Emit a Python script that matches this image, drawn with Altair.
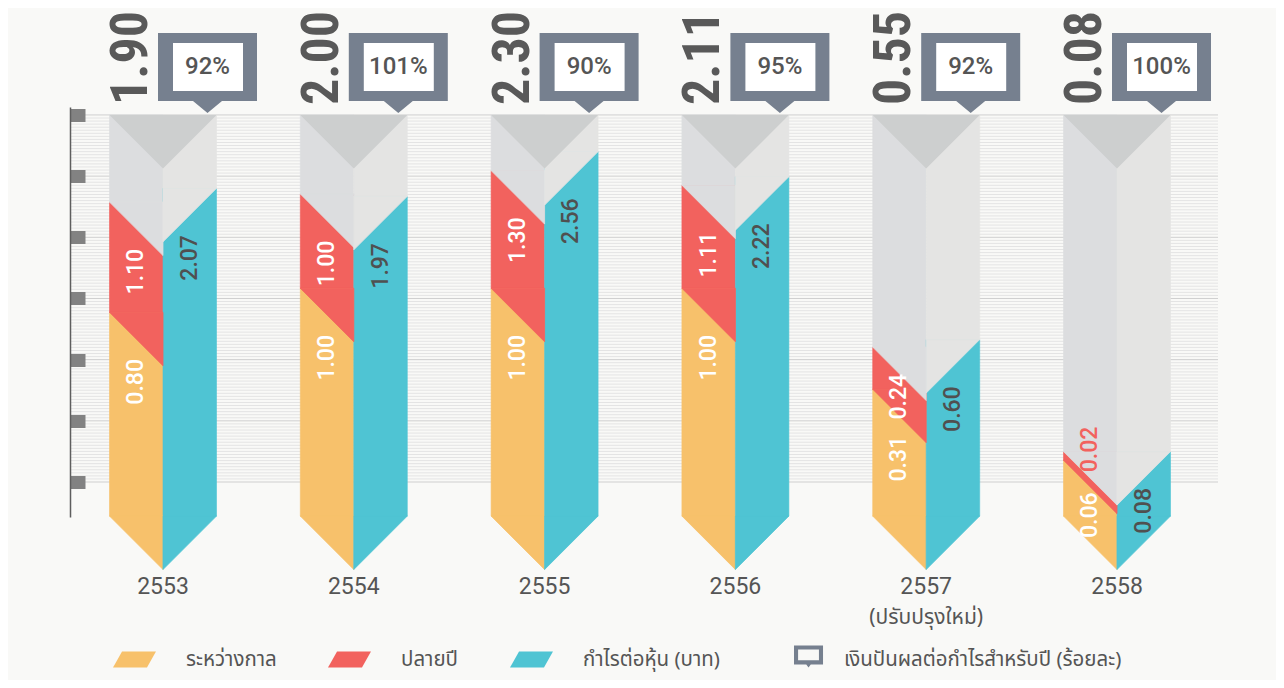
import math
import altair as alt
import pandas as pd

# ---------------- data ----------------
years = ["2553", "2554", "2555", "2556", "2557", "2558"]
year_notes = ["", "", "", "", "(ปรับปรุงใหม่)", ""]
interim = [0.80, 1.00, 1.00, 1.00, 0.31, 0.06]      # ระหว่างกาล
final = [1.10, 1.00, 1.30, 1.11, 0.24, 0.02]        # ปลายปี
total = [1.90, 2.00, 2.30, 2.11, 0.55, 0.08]        # total dividend
eps = [2.07, 1.97, 2.56, 2.22, 0.60, 0.08]          # กำไรต่อหุ้น (บาท)
payout = [92, 101, 90, 95, 92, 100]                 # ร้อยละ
legend_labels = ["ระหว่างกาล", "ปลายปี", "กำไรต่อหุ้น (บาท)",
                 "เงินปันผลต่อกำไรสำหรับปี (ร้อยละ)"]
ruler_ticks = [0, 1, 2, 3, 4, 5, 6]
ruler_minor = [j / 20 for j in range(1, 120) if j % 20]

# ---------------- layout / style ----------------
YEL, RED, TEAL = "#f7c16b", "#f2625e", "#4fc4d3"
GREY_L, GREY_R, CAP = "#dcdddf", "#e4e4e3", "#cdcfcf"
SLATE, BG, TXT = "#76808f", "#f9f9f7", "#555555"
BIG_FONT = "Roboto Condensed, Liberation Sans Narrow, DejaVu Sans Condensed, Roboto, sans-serif"
NUM_FONT = "Roboto, Noto Sans, sans-serif"
THAI_FONT = "Noto Sans Thai, Noto Sans Thai UI, Sarabun, Kanit, Prompt, Loma, Garuda, Noto Sans, sans-serif"

PLOT_W, PLOT_H = 1148, 672
GROUP_PX = 190.8
X_RANGE = [93, 93 + 5 * GROUP_PX]
M = 3.1
Y_RANGE = [508, 107]
K = (Y_RANGE[0] - Y_RANGE[1]) / math.sqrt(M)   # px per sqrt-unit
SLANT = 53.5                                     # column width in px (45 deg cut)
W = SLANT / GROUP_PX
TRI_SIZE = SLANT ** 2                            # symbol unit = SLANT/2 px


def shift(v, px):
    """value whose sqrt-scale position lies px pixels below v (negative = above)"""
    t = math.sqrt(max(v, 0.0)) - px / K
    return math.copysign(t * t, t)


xs = alt.Scale(domain=[0, 5], range=X_RANGE, nice=False, zero=False)
ys = alt.Scale(type="sqrt", domain=[0, M], range=Y_RANGE, nice=False)
rs = alt.Scale(domain=[-0.572, 6.13], range=[509, 99], nice=False, zero=False)

kinds = ["interim", "final", "eps", "greyL", "greyR"]
kind_scale = alt.Scale(domain=kinds, range=[YEL, RED, TEAL, GREY_L, GREY_R])

# ---------------- tables ----------------
rect_rows, tri_rows = [], []
for i in range(6):
    xl, xc, xr = i - W, i, i + W
    for kind, lo, hi in [("interim", 0, interim[i]), ("final", interim[i], total[i]),
                         ("greyL", total[i], M)]:
        rect_rows.append(dict(kind=kind, x=xl, x2=xc, y=hi, y2=lo))
        tri_rows.append(dict(kind=kind, side="L", x=i - W / 2, y=lo))
    for kind, lo, hi in [("eps", 0, eps[i]), ("greyR", eps[i], M)]:
        rect_rows.append(dict(kind=kind, x=xc, x2=xr, y=hi, y2=lo))
        tri_rows.append(dict(kind=kind, side="R", x=i + W / 2, y=lo))
rect_df = pd.DataFrame(rect_rows)
tri_df = pd.DataFrame(tri_rows).sort_values("y", kind="stable").reset_index(drop=True)
tri_df["ord"] = range(len(tri_df))
cap_df = pd.DataFrame(dict(x=list(range(6)), y=[M] * 6))

LBL_LEN, LBL_OFF = 45, 20
lab_rows = []
for i in range(6):
    for kind, lo, hi, xcen in [("light", 0, interim[i], i - W / 2),
                               ("light", interim[i], total[i], i - W / 2),
                               ("dark", 0, eps[i], i + W / 2)]:
        h = K * (math.sqrt(hi) - math.sqrt(lo))
        val = hi - lo
        if h >= 30:
            off = min(LBL_OFF, max(0, (h - LBL_LEN) / 2))
            lab_rows.append(dict(x=xcen, y=shift(hi, SLANT / 2 + off), t=f"{val:.2f}", tc=kind))
        else:
            lab_rows.append(dict(x=xcen, y=shift(hi, SLANT / 2 - 6), t=f"{val:.2f}", tc="out"))
lab_df = pd.DataFrame(lab_rows)

tot_df = pd.DataFrame(dict(x=[i - 32 / GROUP_PX for i in range(6)],
                           y=[shift(M, -10)] * 6, t=[f"{v:.2f}" for v in total]))
box_df = pd.DataFrame(dict(x=[i + 44.5 / GROUP_PX for i in range(6)],
                           y=[shift(M, -48)] * 6, t=[f"{p}%" for p in payout]))
yr_df = pd.DataFrame(dict(x=list(range(6)), y=[shift(0, 60)] * 6, t=years))
note_df = pd.DataFrame(dict(x=list(range(6)), y=[shift(0, 91)] * 6, t=year_notes))
note_df = note_df[note_df.t != ""]
leg_df = pd.DataFrame(dict(lab=legend_labels, x=[0] * 4, y=[0] * 4))
maj_df = pd.DataFrame(dict(v=ruler_ticks))
min_df = pd.DataFrame(dict(v=ruler_minor))

X = lambda: alt.X("x:Q", scale=xs, axis=None)
Y = lambda: alt.Y("y:Q", scale=ys, axis=None)

# ---------------- layers ----------------
minor = alt.Chart(min_df).mark_rule(color="#e4e4e4", strokeWidth=1).encode(
    y=alt.Y("v:Q", scale=rs, axis=None))
major = alt.Chart(maj_df).mark_rule(color="#cfcfcf", strokeWidth=1).encode(
    y=alt.Y("v:Q", scale=rs, axis=alt.Axis(orient="right", offset=-PLOT_W, values=ruler_ticks,
                                           labels=False, grid=False, title=None, zindex=1,
                                           domainColor="#5e5e5e", domainWidth=1.5,
                                           tickColor="#828282", tickSize=15, tickWidth=13)))

rects = alt.Chart(rect_df).mark_rect(strokeWidth=0.6).encode(
    x=X(), x2="x2:Q", y=Y(), y2="y2:Q",
    fill=alt.Fill("kind:N", legend=None, scale=kind_scale),
    stroke=alt.Stroke("kind:N", legend=None, scale=kind_scale))


def tri_layer(side, path):
    return alt.Chart(tri_df).transform_filter(alt.datum.side == side).mark_point(
        shape=path, filled=True, opacity=1, strokeWidth=0.8, size=TRI_SIZE).encode(
        x=X(), y=Y(),
        fill=alt.Fill("kind:N", legend=None, scale=kind_scale),
        stroke=alt.Stroke("kind:N", legend=None, scale=kind_scale),
        order=alt.Order("ord:Q"))


tris_l = tri_layer("L", "M-1,0L1,0L1,2Z")
tris_r = tri_layer("R", "M-1,0L1,0L-1,2Z")
caps = alt.Chart(cap_df).mark_point(shape="M-2,0L2,0L0,2Z", filled=True, opacity=1, strokeWidth=0,
                                    size=TRI_SIZE, color=CAP).encode(x=X(), y=Y())

lab_common = dict(angle=270, baseline="middle", font=NUM_FONT, fontSize=23, fontWeight=500)
lab_light = alt.Chart(lab_df).transform_filter(alt.datum.tc == "light").mark_text(
    align="right", color="#ffffff", **lab_common).encode(x=X(), y=Y(), text="t:N")
lab_dark = alt.Chart(lab_df).transform_filter(alt.datum.tc == "dark").mark_text(
    align="right", color="#505050", **lab_common).encode(x=X(), y=Y(), text="t:N")
lab_out = alt.Chart(lab_df).transform_filter(alt.datum.tc == "out").mark_text(
    align="left", color=RED, **lab_common).encode(x=X(), y=Y(), text="t:N")

totals = alt.Chart(tot_df).mark_text(angle=270, align="left", baseline="middle", font=BIG_FONT,
                                     fontSize=52, fontWeight="bold", color="#595959").encode(
    x=X(), y=Y(), text="t:N")

BOX = "M-0.99,-0.68L0.99,-0.68L0.99,0.68L0.29,0.68L0,0.92L-0.29,0.68L-0.99,0.68Z"
INNER = "M-0.69,-0.48L0.71,-0.48L0.71,0.48L-0.69,0.48Z"
box_o = alt.Chart(box_df).mark_point(shape=BOX, size=10000, filled=True, color=SLATE,
                                     opacity=1, strokeWidth=0).encode(x=X(), y=Y())
box_i = alt.Chart(box_df).mark_point(shape=INNER, size=10000, filled=True, color="#ffffff",
                                     opacity=1, strokeWidth=0).encode(x=X(), y=Y())
box_t = alt.Chart(box_df).mark_text(font=NUM_FONT, fontSize=24, fontWeight=500, color=TXT,
                                    baseline="middle", align="center").encode(
    x=X(), y=Y(), text="t:N")

yrs = alt.Chart(yr_df).mark_text(font=NUM_FONT, fontSize=23, color=TXT, baseline="top",
                                 align="center").encode(x=X(), y=Y(), text="t:N")
notes = alt.Chart(note_df).mark_text(font=THAI_FONT, fontSize=21, color=TXT, baseline="top",
                                     align="center").encode(x=X(), y=Y(), text="t:N")

PARA = "M-1,0.37L-0.58,-0.37L1,-0.37L0.58,0.37Z"
ICON = ("M0.07,-0.65L1.42,-0.65L1.42,0.23L0.85,0.23L0.745,0.37L0.64,0.23L0.07,0.23Z"
        "M0.26,-0.46L0.26,0.04L1.23,0.04L1.23,-0.46Z")
leg = alt.Legend(orient="none", legendX=43, legendY=630, direction="horizontal", title=None,
                 symbolSize=1849, symbolStrokeWidth=0, symbolOpacity=1, labelFont=THAI_FONT,
                 labelFontSize=20.5, labelColor=TXT, labelOffset=30, columnPadding=51,
                 labelLimit=500, padding=0)
legend_layer = alt.Chart(leg_df).mark_point(filled=True, opacity=0).encode(
    x=X(), y=Y(),
    color=alt.Color("lab:N", sort=None, legend=leg,
                    scale=alt.Scale(domain=legend_labels, range=[YEL, RED, TEAL, SLATE])),
    shape=alt.Shape("lab:N", sort=None, legend=leg,
                    scale=alt.Scale(domain=legend_labels, range=[PARA, PARA, PARA, ICON])))

chart = alt.layer(
    minor, major, rects, tris_l, tris_r, caps, lab_light, lab_dark, lab_out, totals,
    box_o, box_i, box_t, yrs, notes, legend_layer
).resolve_scale(y="independent").properties(
    width=PLOT_W, height=PLOT_H, autosize="none",
    padding={"left": 62, "top": 0, "right": 58, "bottom": 0},
).configure(background=BG).configure_view(stroke=None)

chart.save("out.html", embed_options={"renderer": "svg", "actions": False})
